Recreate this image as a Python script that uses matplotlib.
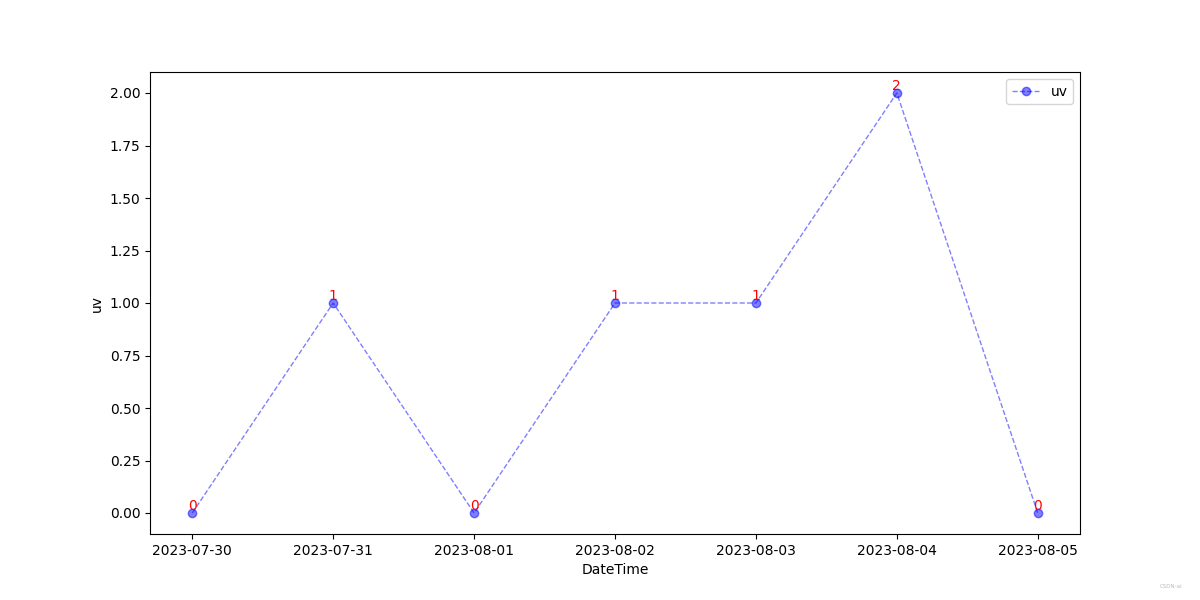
import matplotlib
matplotlib.use("Agg")
import matplotlib.pyplot as plt

dates = ["2023-07-30", "2023-07-31", "2023-08-01", "2023-08-02",
         "2023-08-03", "2023-08-04", "2023-08-05"]
uv = [0, 1, 0, 1, 1, 2, 0]

fig, ax = plt.subplots(figsize=(12, 6), dpi=100)
ax.plot(dates, uv, color="blue", alpha=0.5, linestyle="--", linewidth=1,
        marker="o", label="uv")
for d, v in zip(dates, uv):
    ax.text(d, v, str(v), color="red", ha="center", va="bottom", fontsize=10)

ax.set_xlabel("DateTime")
ax.set_ylabel("uv")
ax.legend(loc="upper right")

fig.text(0.985, 0.02, "CSDN-ai", fontsize=4, color="#bbbbbb", ha="right")
fig.savefig("out.png")
